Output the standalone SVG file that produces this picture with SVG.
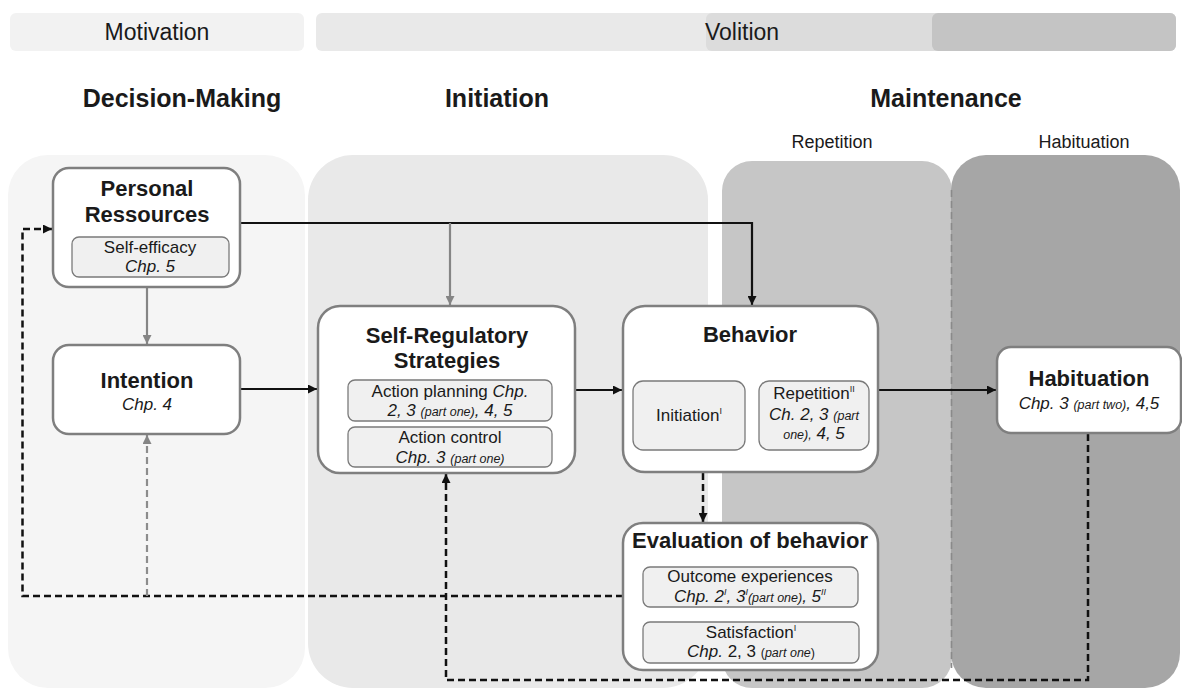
<svg xmlns="http://www.w3.org/2000/svg" width="1182" height="690" viewBox="0 0 1182 690">
  <defs>
    <style>
      text { font-family: "Liberation Sans", Arial, sans-serif; fill: #1a1a1a; text-anchor: middle; }
      .bar { font-size: 23px; }
      .head { font-size: 25px; font-weight: bold; }
      .sub { font-size: 18px; }
      .title { font-size: 22px; font-weight: bold; }
      .txt { font-size: 17px; }
      .it { font-style: italic; }
      .sm { font-size: 12.5px; }
      .sup { font-size: 9px; }
      .node { fill: #ffffff; stroke: #7f7f7f; stroke-width: 2.5; }
      .inner { fill: #f0f0f0; stroke: #7a7a7a; stroke-width: 1.3; }
      .solid { fill: none; stroke: #111111; stroke-width: 2.2; }
      .grey { fill: none; stroke: #858585; stroke-width: 2.2; }
      .dash { fill: none; stroke: #111111; stroke-width: 2.5; stroke-dasharray: 7 4; }
      .gdash { fill: none; stroke: #8c8c8c; stroke-width: 2.2; stroke-dasharray: 7 4; }
    </style>
    <marker id="ah" viewBox="0 0 10 10" refX="10" refY="5" markerWidth="10" markerHeight="9" markerUnits="userSpaceOnUse" orient="auto">
      <path d="M0,0 L10,5 L0,10 z" fill="#111111"/>
    </marker>
    <marker id="ahg" viewBox="0 0 10 10" refX="10" refY="5" markerWidth="10" markerHeight="9" markerUnits="userSpaceOnUse" orient="auto">
      <path d="M0,0 L10,5 L0,10 z" fill="#858585"/>
    </marker>
  </defs>

  <rect width="1182" height="690" fill="#ffffff"/>

  <!-- phase bars -->
  <g id="phase-bars">
    <rect x="10" y="13" width="294" height="38" rx="6" fill="#f2f2f2"/>
    <rect x="316" y="13" width="860" height="38" rx="6" fill="#e9e9e9"/>
    <rect x="706" y="13" width="470" height="38" rx="6" fill="#dcdcdc"/>
    <rect x="932" y="13" width="244" height="38" rx="6" fill="#c4c4c4"/>
    <text class="bar" x="157" y="40">Motivation</text>
    <text class="bar" x="742" y="40">Volition</text>
  </g>

  <!-- stage headings -->
  <g id="stage-headings">
    <text class="head" x="182" y="107">Decision-Making</text>
    <text class="head" x="497" y="107">Initiation</text>
    <text class="head" x="946" y="107">Maintenance</text>
    <text class="sub" x="832" y="148">Repetition</text>
    <text class="sub" x="1084" y="148">Habituation</text>
  </g>

  <!-- stage columns -->
  <g id="columns">
    <rect x="8" y="155" width="297" height="533" rx="40" fill="#f5f5f5"/>
    <rect x="308" y="155" width="400" height="533" rx="45" fill="#e9e9e9"/>
    <rect x="722" y="161" width="230" height="527" rx="30" fill="#c6c6c6"/>
    <rect x="951" y="155" width="229" height="533" rx="35" fill="#a6a6a6"/>
    <line x1="951.5" y1="190" x2="951.5" y2="668" stroke="#8a8a8a" stroke-width="1.6" stroke-dasharray="7 4"/>
  </g>

  <!-- connectors -->
  <g id="connectors">
    <path class="solid" d="M240,223 H752 V305" marker-end="url(#ah)"/>
    <path class="grey" d="M450,223 V305" marker-end="url(#ahg)"/>
    <path class="grey" d="M147,287 V344" marker-end="url(#ahg)"/>
    <path class="solid" d="M240,389 H317" marker-end="url(#ah)"/>
    <path class="solid" d="M575,390 H622" marker-end="url(#ah)"/>
    <path class="solid" d="M878,390 H996" marker-end="url(#ah)"/>
    <path class="dash" d="M703,473 V522" marker-end="url(#ah)"/>
    <path class="dash" d="M623,596 H22.5 V229 H52" marker-end="url(#ah)"/>
    <path class="gdash" d="M147,596 V435" marker-end="url(#ahg)"/>
    <path class="dash" d="M1088,434 V680 H446 V474" marker-end="url(#ah)"/>
  </g>

  <!-- Personal Ressources -->
  <g id="personal-ressources">
    <rect class="node" x="53" y="168" width="187" height="119" rx="16"/>
    <text class="title" x="147" y="196">Personal</text>
    <text class="title" x="147" y="222">Ressources</text>
    <rect class="inner" x="72" y="237" width="157" height="40" rx="7"/>
    <text class="txt" x="150" y="253">Self-efficacy</text>
    <text class="txt it" x="150" y="272">Chp. 5</text>
  </g>

  <!-- Intention -->
  <g id="intention">
    <rect class="node" x="53" y="345" width="187" height="89" rx="16"/>
    <text class="title" x="147" y="388">Intention</text>
    <text class="txt it" x="147" y="410">Chp. 4</text>
  </g>

  <!-- Self-Regulatory Strategies -->
  <g id="self-regulatory-strategies">
    <rect class="node" x="318" y="306" width="257" height="167" rx="22"/>
    <text class="title" x="447" y="343">Self-Regulatory</text>
    <text class="title" x="447" y="368">Strategies</text>
    <rect class="inner" x="348" y="380" width="204" height="41" rx="7"/>
    <text class="txt" x="450" y="397">Action planning <tspan class="it">Chp.</tspan></text>
    <text class="txt it" x="450" y="416">2, 3 <tspan class="sm">(part one)</tspan>, 4, 5</text>
    <rect class="inner" x="348" y="427" width="204" height="40" rx="7"/>
    <text class="txt" x="450" y="443">Action control</text>
    <text class="txt it" x="450" y="463">Chp. 3 <tspan class="sm">(part one)</tspan></text>
  </g>

  <!-- Behavior -->
  <g id="behavior">
    <rect class="node" x="623" y="306" width="255" height="166" rx="22"/>
    <text class="title" x="750" y="342">Behavior</text>
    <rect class="inner" x="633" y="381" width="112" height="69" rx="10"/>
    <text class="txt" x="689" y="421">Initiation<tspan class="sup" dy="-7">I</tspan></text>
    <rect class="inner" x="759" y="381" width="110" height="69" rx="10"/>
    <text class="txt" x="814" y="399">Repetition<tspan class="sup" dy="-7">II</tspan></text>
    <text class="txt it" x="814" y="420">Ch. 2, 3 <tspan class="sm">(part</tspan></text>
    <text class="txt it" x="814" y="439"><tspan class="sm">one),</tspan> 4, 5</text>
  </g>

  <!-- Habituation -->
  <g id="habituation">
    <rect class="node" x="997" y="347" width="184" height="86" rx="14"/>
    <text class="title" x="1089" y="386">Habituation</text>
    <text class="txt it" x="1089" y="409">Chp. 3 <tspan class="sm">(part two)</tspan>, 4,5</text>
  </g>

  <!-- Evaluation of behavior -->
  <g id="evaluation-of-behavior">
    <rect class="node" x="623" y="523" width="255" height="147" rx="20"/>
    <text class="title" x="750" y="548">Evaluation of behavior</text>
    <rect class="inner" x="643" y="567" width="215" height="40" rx="7"/>
    <text class="txt" x="750" y="582">Outcome experiences</text>
    <text class="txt it" x="750" y="602">Chp. 2<tspan class="sup" dy="-7">I</tspan><tspan dy="7">, 3</tspan><tspan class="sup" dy="-7">I</tspan><tspan class="sm" dy="7">(part one)</tspan>, 5<tspan class="sup" dy="-7">II</tspan></text>
    <rect class="inner" x="643" y="622" width="216" height="41" rx="7"/>
    <text class="txt" x="751" y="638">Satisfaction<tspan class="sup" dy="-7">I</tspan></text>
    <text class="txt" x="751" y="657"><tspan class="it">Chp.</tspan> 2, 3 <tspan class="sm">(<tspan class="it">part one</tspan>)</tspan></text>
  </g>
</svg>
